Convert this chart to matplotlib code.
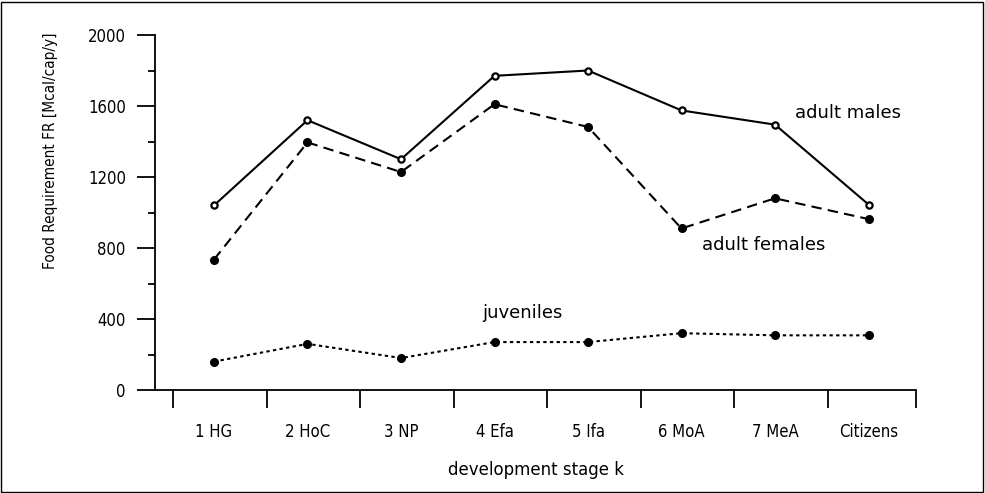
import matplotlib.pyplot as plt
from matplotlib import font_manager
from matplotlib.patches import Rectangle

stages = ["1 HG", "2 HoC", "3 NP", "4 Efa", "5 Ifa", "6 MoA", "7 MeA", "Citizens"]
males = [1040, 1520, 1300, 1770, 1800, 1575, 1495, 1045]
females = [735, 1395, 1228, 1610, 1482, 910, 1080, 963]
juveniles = [160, 260, 180, 270, 270, 320, 308, 308]

# pick a narrow face for the tick labels if there is one
names = {f.name for f in font_manager.fontManager.ttflist}
if "Liberation Sans Narrow" in names:
    narrow = dict(family="Liberation Sans Narrow")
else:
    narrow = dict(family="DejaVu Sans", stretch="condensed")

fig = plt.figure(figsize=(9.85, 4.93), dpi=100)
W, H = 985, 493
ax = fig.add_axes([155 / W, 1 - 390 / H, (916 - 155) / W, (390 - 35) / H])

x = list(range(len(stages)))
ax.plot(x, males, color="black", lw=1.5, ls="-", marker="o", ms=4.5,
        mfc="white", mec="black", mew=1.6)
ax.plot(x, females, color="black", lw=1.5, ls=(0, (5, 3)), marker="o", ms=5.5,
        mfc="black", mec="black")
ax.plot(x, juveniles, color="black", lw=1.5, ls=(0, (1.6, 1.6)), marker="o", ms=5.5,
        mfc="black", mec="black")

ax.set_xlim(-0.631, 7.508)
ax.set_ylim(0, 2000)

for s in ["top", "right"]:
    ax.spines[s].set_visible(False)
ax.spines["left"].set_linewidth(1.3)
ax.spines["bottom"].set_linewidth(1.3)

ax.set_yticks([0, 400, 800, 1200, 1600, 2000])
ax.set_yticks(range(200, 2000, 400), minor=True)
ax.tick_params(axis="y", which="major", length=13, width=1.3, pad=8, labelsize=12)
ax.tick_params(axis="y", which="minor", length=5, width=1.3)

bounds = [i + 0.565 for i in range(-1, 7)] + [7.508]
ax.set_xticks(bounds)
ax.set_xticklabels([])
ax.set_xticks(x, minor=True)
ax.set_xticklabels(stages, minor=True)
ax.tick_params(axis="x", which="major", direction="out", length=13, width=1.3)
ax.tick_params(axis="x", which="minor", length=0, pad=24, labelsize=12)

for lab in ax.get_yticklabels() + ax.get_xticklabels(minor=True):
    lab.set_fontproperties(font_manager.FontProperties(size=12, **narrow))

ax.set_ylabel("Food Requirement FR [Mcal/cap/y]",
              fontproperties=font_manager.FontProperties(size=11, **narrow))
ax.yaxis.set_label_coords(-0.1275, 0.675)
ax.set_xlabel("development stage k", fontsize=12, labelpad=14)

ax.text(6.214, 1560, "adult males", fontsize=13, ha="left", va="center")
ax.text(5.219, 817, "adult females", fontsize=13, ha="left", va="center")
ax.text(2.866, 434, "juveniles", fontsize=13, ha="left", va="center")

fig.patches.append(Rectangle((1 / W, 1 / H), 982 / W, 490 / H, transform=fig.transFigure,
                             fill=False, edgecolor="black", lw=1))

fig.savefig("out.png", dpi=100)
